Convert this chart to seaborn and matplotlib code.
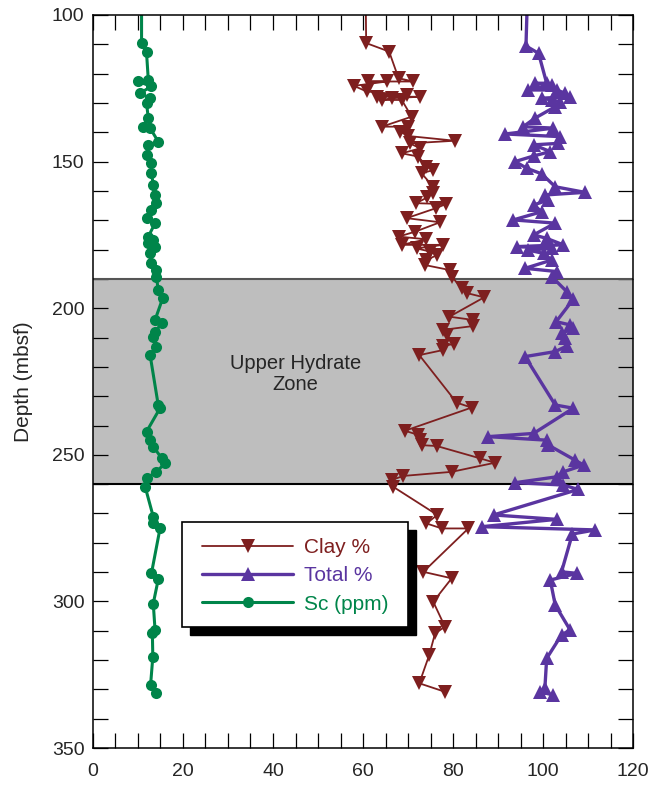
import matplotlib
matplotlib.use("Agg")
import matplotlib.pyplot as plt
import seaborn as sns
from matplotlib.patches import Rectangle
from matplotlib.ticker import MultipleLocator

# Clay % vs depth (mbsf)
clay_depth = [95, 109.6, 112.5, 121.6, 122.7, 122.7, 122.7, 124.2, 126.1, 127.3, 127.9, 127.9,
              128.4, 129.0, 129.0, 134.7, 138.1, 138.1, 139.8, 141.3, 142.9, 143.8, 145.5,
              147.2, 148.3, 151.7, 152.9, 154.0, 158.6, 160.8, 162.2, 164.2, 164.5, 165.9,
              169.3, 170.7, 173.9, 175.6, 176.5, 178.4, 178.4, 179.6, 180.7, 181.9, 183.6,
              185.3, 187.0, 189.2, 193.2, 194.9, 196.3, 202.9, 204.0, 206.1, 207.4, 209.1,
              212.2, 212.9, 214.3, 216.0, 232.2, 233.9, 241.8, 243.2, 244.9, 246.7, 247.0,
              251.2, 252.7, 255.8, 257.2, 258.6, 260.9, 270.5, 273.4, 275.1, 275.1, 289.9,
              292.1, 300.1, 308.6, 310.9, 318.3, 327.9, 330.8]
clay_pct = [60.6, 60.7, 65.8, 67.9, 71.2, 61.2, 65.3, 58.0, 60.8, 69.7, 63.0, 72.7,
            66.4, 64.2, 68.6, 70.8, 64.2, 70.1, 68.2, 70.1, 80.4, 70.4, 72.7,
            68.6, 72.3, 74.1, 75.6, 73.0, 75.6, 75.6, 74.3, 71.8, 78.4, 76.2,
            69.7, 77.1, 71.6, 67.9, 74.1, 68.6, 77.8, 71.9, 74.9, 76.4, 74.1,
            73.8, 79.3, 79.7, 81.9, 83.2, 86.9, 79.2, 84.4, 84.4, 77.7, 78.7,
            80.1, 77.8, 77.7, 72.5, 80.8, 84.1, 69.3, 72.3, 72.7, 73.0, 76.4,
            86.0, 89.3, 79.7, 68.9, 66.4, 66.7, 76.5, 74.1, 77.5, 83.4, 73.4,
            79.7, 75.6, 78.2, 76.0, 74.7, 72.5, 78.2]

# Total % vs depth
total_depth = [95, 110.6, 113.1, 123.3, 123.3, 123.9, 125.6, 125.6, 126.7, 127.9, 128.4, 129.0,
               129.6, 131.3, 135.2, 138.1, 138.6, 140.6, 141.5, 143.8, 144.3, 146.6, 148.1,
               150.0, 152.3, 154.2, 158.6, 160.5, 161.4, 163.1, 164.8, 167.1, 169.9, 171.0,
               175.0, 176.2, 178.4, 179.0, 179.6, 180.2, 181.3, 183.6, 186.4, 187.5, 189.2,
               194.4, 197.0, 204.6, 205.7, 206.9, 208.6, 210.3, 212.8, 214.8, 216.5, 233.0,
               234.1, 242.7, 243.8, 245.0, 246.7, 251.8, 253.5, 255.8, 257.5, 259.5, 260.3,
               261.8, 270.5, 272.0, 274.5, 275.6, 277.0, 289.9, 290.4, 292.7, 301.2, 309.7,
               311.4, 319.4, 329.6, 330.8, 331.9]
total_pct = [96.5, 96.2, 99.0, 100.8, 98.2, 101.9, 96.7, 103.0, 104.9, 105.9, 99.7, 101.9,
             103.8, 102.7, 98.2, 95.6, 102.3, 91.6, 103.8, 103.4, 97.9, 101.6, 97.9,
             93.8, 96.4, 99.7, 102.7, 109.3, 100.4, 101.2, 97.9, 99.7, 93.4, 102.7,
             97.9, 100.8, 104.5, 94.2, 101.9, 96.7, 100.1, 101.9, 96.0, 103.0, 101.9,
             105.3, 106.7, 102.9, 106.0, 106.7, 104.1, 104.9, 105.4, 102.7, 96.0, 102.7,
             106.7, 97.9, 87.8, 100.8, 101.2, 107.1, 109.0, 104.5, 103.0, 93.8, 104.5,
             107.8, 89.0, 103.0, 86.4, 111.6, 106.5, 104.1, 107.5, 101.6, 102.7, 106.0,
             104.1, 100.8, 100.4, 99.3, 102.3]

# Sc (ppm) vs depth
sc_depth = [95, 109.7, 112.8, 122.2, 122.7, 124.4, 126.7, 128.4, 130.1, 135.2, 138.1, 138.6,
            143.2, 144.3, 147.7, 150.6, 154.0, 158.0, 161.4, 164.2, 166.5, 169.3, 171.0,
            175.6, 176.7, 177.9, 179.0, 181.3, 184.7, 187.0, 189.2, 193.8, 196.6, 204.0,
            205.2, 208.0, 209.7, 213.1, 216.0, 233.0, 234.1, 242.1, 245.0, 247.2, 251.2,
            252.9, 255.8, 258.0, 260.9, 271.1, 273.4, 275.1, 290.4, 292.5, 300.7, 309.8,
            310.9, 318.9, 328.5, 331.3]
sc_ppm = [10.8, 10.8, 11.9, 12.3, 10.1, 13.0, 10.4, 12.7, 11.9, 12.3, 11.2, 12.7,
          14.5, 12.3, 11.9, 13.0, 13.0, 13.4, 13.8, 14.1, 13.0, 11.9, 13.8,
          12.3, 13.4, 12.3, 13.8, 12.7, 13.0, 14.1, 14.1, 14.5, 15.5, 13.8,
          15.3, 13.8, 13.4, 14.1, 12.7, 14.5, 14.9, 11.9, 12.7, 13.4, 15.3,
          16.0, 14.1, 11.9, 11.6, 13.4, 13.4, 14.9, 13.0, 14.5, 13.4, 13.8,
          13.2, 13.3, 12.8, 14.0]

hydrate_top, hydrate_base = 190, 260

sns.set_style("white")
plt.rcParams["font.family"] = ["Liberation Sans", "DejaVu Sans"]

fig = plt.figure(figsize=(6.5, 7.85), dpi=100)
ax = fig.add_axes([0.143, 0.047, 0.831, 0.934])

# hydrate zone band
ax.axhspan(hydrate_top, hydrate_base, color="#bebebe", zorder=0, lw=0)
ax.axhline(hydrate_top, color="#555555", lw=1.5, zorder=1)
ax.axhline(hydrate_base, color="black", lw=1.5, zorder=1)
ax.text(45, 222.5, "Upper Hydrate\nZone", ha="center", va="center", fontsize=14.5,
        linespacing=1.15)

sns.lineplot(x=clay_pct, y=clay_depth, sort=False, estimator=None, ax=ax,
             color="#7e1f1f", lw=1.3, marker="v", markersize=9.5, markeredgewidth=0,
             label="Clay %", zorder=3)
sns.lineplot(x=total_pct, y=total_depth, sort=False, estimator=None, ax=ax,
             color="#5a35a0", lw=2.4, marker="^", markersize=9.5, markeredgewidth=0,
             label="Total %", zorder=3)
sns.lineplot(x=sc_ppm, y=sc_depth, sort=False, estimator=None, ax=ax,
             color="#00854a", lw=2.2, marker="o", markersize=8, markeredgewidth=0,
             label="Sc (ppm)", zorder=3)

ax.set_xlim(0, 120)
ax.set_ylim(350, 100)
ax.xaxis.set_major_locator(MultipleLocator(20))
ax.xaxis.set_minor_locator(MultipleLocator(5))
ax.yaxis.set_major_locator(MultipleLocator(50))
ax.yaxis.set_minor_locator(MultipleLocator(10))
ax.tick_params(which="both", direction="in", top=True, right=True, bottom=True, left=True,
               length=11, width=0.9, color="black", labelsize=14, pad=6)
ax.tick_params(axis="x", pad=11)
ax.set_ylabel("Depth (mbsf)", fontsize=15, labelpad=14)
for s in ax.spines.values():
    s.set_color("black")
    s.set_linewidth(1.1)
    s.set_zorder(5)

# legend box with black drop shadow
ax.add_patch(Rectangle((0.180, 0.154), 0.418, 0.143, transform=ax.transAxes,
                       facecolor="black", edgecolor="black", zorder=6))
ax.add_patch(Rectangle((0.165, 0.165), 0.418, 0.143, transform=ax.transAxes,
                       facecolor="white", edgecolor="black", lw=1.2, zorder=7))
leg = ax.legend(loc="center", bbox_to_anchor=(0.374, 0.235), frameon=False,
                fontsize=15, handlelength=4.4, labelcolor="linecolor",
                labelspacing=0.45, handletextpad=0.5)
leg.set_zorder(8)

fig.savefig("out.png", dpi=100)
